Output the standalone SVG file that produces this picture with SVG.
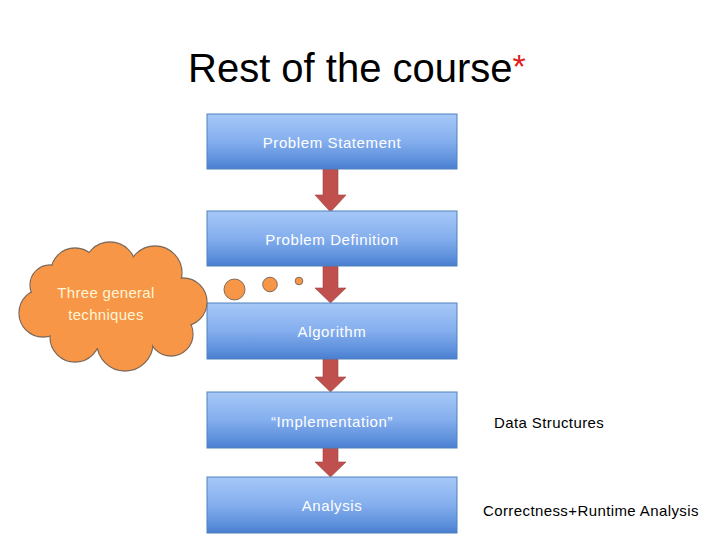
<svg xmlns="http://www.w3.org/2000/svg" width="720" height="540" viewBox="0 0 720 540">
<defs>
<linearGradient id="boxGrad" x1="0" y1="0" x2="0" y2="1">
<stop offset="0" stop-color="#A6C8F7"/>
<stop offset="0.5" stop-color="#84AEEE"/>
<stop offset="0.85" stop-color="#5C8FDB"/>
<stop offset="1" stop-color="#4A7ED0"/>
</linearGradient>
<path id="arrowShape" d="M-7.5,0 H7.5 V-1 H15.5 L0,16 L-15.5,-1 H-7.5 Z"/>
</defs>
<style>
.box{fill:url(#boxGrad);stroke:#4F81BD;stroke-width:1}
.btxt{font-family:"Liberation Sans",Arial,sans-serif;font-size:15px;fill:#FFFFFF;text-anchor:middle;letter-spacing:0.6px}
.side{font-family:"Liberation Sans",Arial,sans-serif;font-size:15px;fill:#000000;letter-spacing:0.4px}
.arrow{fill:#C0504D;stroke:#A04340;stroke-width:0.6}
.cloudStroke{fill:#F79646;stroke:#7F6B5C;stroke-width:1.3}
.cloudFill{fill:#F79646}
.ctxt{font-family:"Liberation Sans",Arial,sans-serif;font-size:15px;fill:#FFF5D6;text-anchor:middle;letter-spacing:0.3px}
.bubble{fill:#F79646;stroke:#7F6B5C;stroke-width:1}
</style>
<rect width="720" height="540" fill="#FFFFFF"/>
<g id="title">
<text x="188" y="82" font-family="'Liberation Sans',Arial,sans-serif" font-size="40" fill="#000000">Rest of the course<tspan fill="#E02020" font-size="34" dy="-4">*</tspan></text>
</g>
<g id="connectors">
<path class="arrow" d="M323,169 H338 V195 H346 L330.5,212 L315,195 H323 Z"/>
<path class="arrow" d="M323,266 H338 V288 H346 L330.5,303 L315,288 H323 Z"/>
<path class="arrow" d="M323,359 H338 V377 H346 L330.5,392 L315,377 H323 Z"/>
<path class="arrow" d="M323,448 H338 V462 H346 L330.5,477 L315,462 H323 Z"/>
</g>
<g id="node-problem-statement">
<rect class="box" x="207" y="114" width="250" height="55"/>
<text class="btxt" x="332" y="148">Problem Statement</text>
</g>
<g id="node-problem-definition">
<rect class="box" x="207" y="211" width="250" height="55"/>
<text class="btxt" x="332" y="245">Problem Definition</text>
</g>
<g id="node-algorithm">
<rect class="box" x="207" y="303" width="250" height="56"/>
<text class="btxt" x="332" y="337">Algorithm</text>
</g>
<g id="node-implementation">
<rect class="box" x="207" y="392" width="250" height="56"/>
<text class="btxt" x="332" y="427">“Implementation”</text>
</g>
<g id="node-analysis">
<rect class="box" x="207" y="477" width="250" height="56"/>
<text class="btxt" x="332" y="511">Analysis</text>
</g>
<g id="node-cloud">
<circle class="cloudStroke" cx="75" cy="272" r="24"/>
<circle class="cloudStroke" cx="110" cy="268" r="26"/>
<circle class="cloudStroke" cx="155" cy="273" r="27"/>
<circle class="cloudStroke" cx="183" cy="302" r="24"/>
<circle class="cloudStroke" cx="171" cy="334" r="22"/>
<circle class="cloudStroke" cx="125" cy="343" r="28"/>
<circle class="cloudStroke" cx="75" cy="337" r="25"/>
<circle class="cloudStroke" cx="43" cy="313" r="24"/>
<circle class="cloudStroke" cx="50" cy="285" r="20"/>
<circle class="cloudFill" cx="75" cy="272" r="23.3"/>
<circle class="cloudFill" cx="110" cy="268" r="25.3"/>
<circle class="cloudFill" cx="155" cy="273" r="26.3"/>
<circle class="cloudFill" cx="183" cy="302" r="23.3"/>
<circle class="cloudFill" cx="171" cy="334" r="21.3"/>
<circle class="cloudFill" cx="125" cy="343" r="27.3"/>
<circle class="cloudFill" cx="75" cy="337" r="24.3"/>
<circle class="cloudFill" cx="43" cy="313" r="23.3"/>
<circle class="cloudFill" cx="50" cy="285" r="19.3"/>
<ellipse class="cloudFill" cx="113" cy="305" rx="72" ry="44"/>
<text class="ctxt" x="106" y="298">Three general</text>
<text class="ctxt" x="106" y="320">techniques</text>
</g>
<g id="bubbles">
<circle class="bubble" cx="234.5" cy="289.5" r="10.5"/>
<circle class="bubble" cx="270" cy="284.5" r="7.3"/>
<circle class="bubble" cx="299" cy="281" r="3.8"/>
</g>
<g id="label-data-structures">
<text class="side" x="494" y="428">Data Structures</text>
</g>
<g id="label-correctness">
<text class="side" x="483" y="516">Correctness+Runtime Analysis</text>
</g>
</svg>
